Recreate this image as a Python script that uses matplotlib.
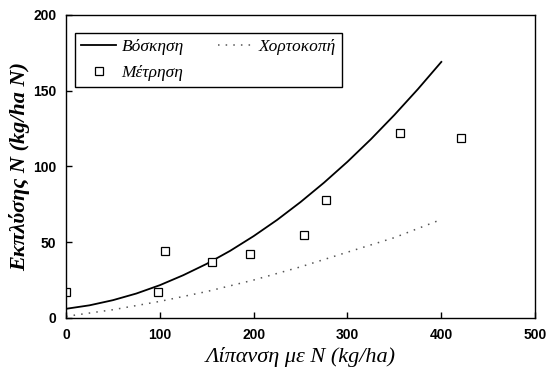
import matplotlib
matplotlib.use("Agg")
import matplotlib.pyplot as plt

# Data
grazing_x = [0, 25, 50, 75, 100, 125, 150, 175, 200, 225, 250, 275, 300, 325, 350, 375, 400]
grazing_y = [6, 8.3, 11.7, 16.1, 21.6, 28.2, 35.7, 44.3, 54.0, 64.7, 76.5, 89.3, 103.1, 118.0, 134.0, 151.0, 169.0]

mowing_x = [0, 50, 100, 150, 200, 250, 300, 350, 400]
mowing_y = [1, 5.4, 10.9, 17.4, 25, 33.7, 43.4, 53.0, 65]

meas_x = [0, 98, 105, 156, 196, 254, 277, 356, 421]
meas_y = [17, 17, 44, 37, 42, 55, 78, 122, 119]

xticks = [0, 100, 200, 300, 400, 500]
xticklabels = ["0", "100", "200", "300", "400", "500"]
yticks = [0, 50, 100, 150, 200]
yticklabels = ["0", "50", "100", "150", "200"]

labels = ["Βόσκηση", "Χορτοκοπή", "Μέτρηση"]
xlabel = "Λίπανση με N (kg/ha)"
ylabel = "Εκπλύσης N (kg/ha N)"

fig = plt.figure(figsize=(5.5, 3.74), dpi=100)
ax = fig.add_axes([0.12, 0.15, 0.853, 0.81])

l1, = ax.plot(grazing_x, grazing_y, color="black", lw=1.3, label=labels[0])
l2, = ax.plot(mowing_x, mowing_y, color="#555555", lw=1.1, linestyle=(0, (1, 4)), label=labels[1])
l3, = ax.plot(meas_x, meas_y, linestyle="none", marker="s", markersize=5.5,
              markerfacecolor="white", markeredgecolor="black", markeredgewidth=0.9, label=labels[2])

ax.set_xlim(0, 500)
ax.set_ylim(0, 200)
ax.set_xticks(xticks)
ax.set_xticklabels(xticklabels)
ax.set_yticks(yticks)
ax.set_yticklabels(yticklabels)
ax.tick_params(direction="in", length=4, width=1, pad=7)
for lab in ax.get_xticklabels() + ax.get_yticklabels():
    lab.set_fontfamily("Liberation Sans")
    lab.set_fontweight("bold")
    lab.set_fontsize(10)
for s in ax.spines.values():
    s.set_linewidth(1.0)
    s.set_color("black")

ax.set_xlabel(xlabel, family="Liberation Serif", style="italic", fontsize=16, labelpad=4)
ax.set_ylabel(ylabel, family="Liberation Serif", style="italic", fontweight="bold", fontsize=16, labelpad=2)

leg = ax.legend(handles=[l1, l3, l2], ncol=2, loc="upper left",
                bbox_to_anchor=(0.02, 0.94), borderaxespad=0,
                prop={"family": "Liberation Serif", "style": "italic", "size": 12.5},
                frameon=True, fancybox=False, edgecolor="black", framealpha=1,
                handlelength=2.0, handletextpad=0.3, columnspacing=2.0,
                borderpad=0.35, labelspacing=0.55)
leg.get_frame().set_linewidth(1.0)

fig.savefig("out.png", dpi=100)
